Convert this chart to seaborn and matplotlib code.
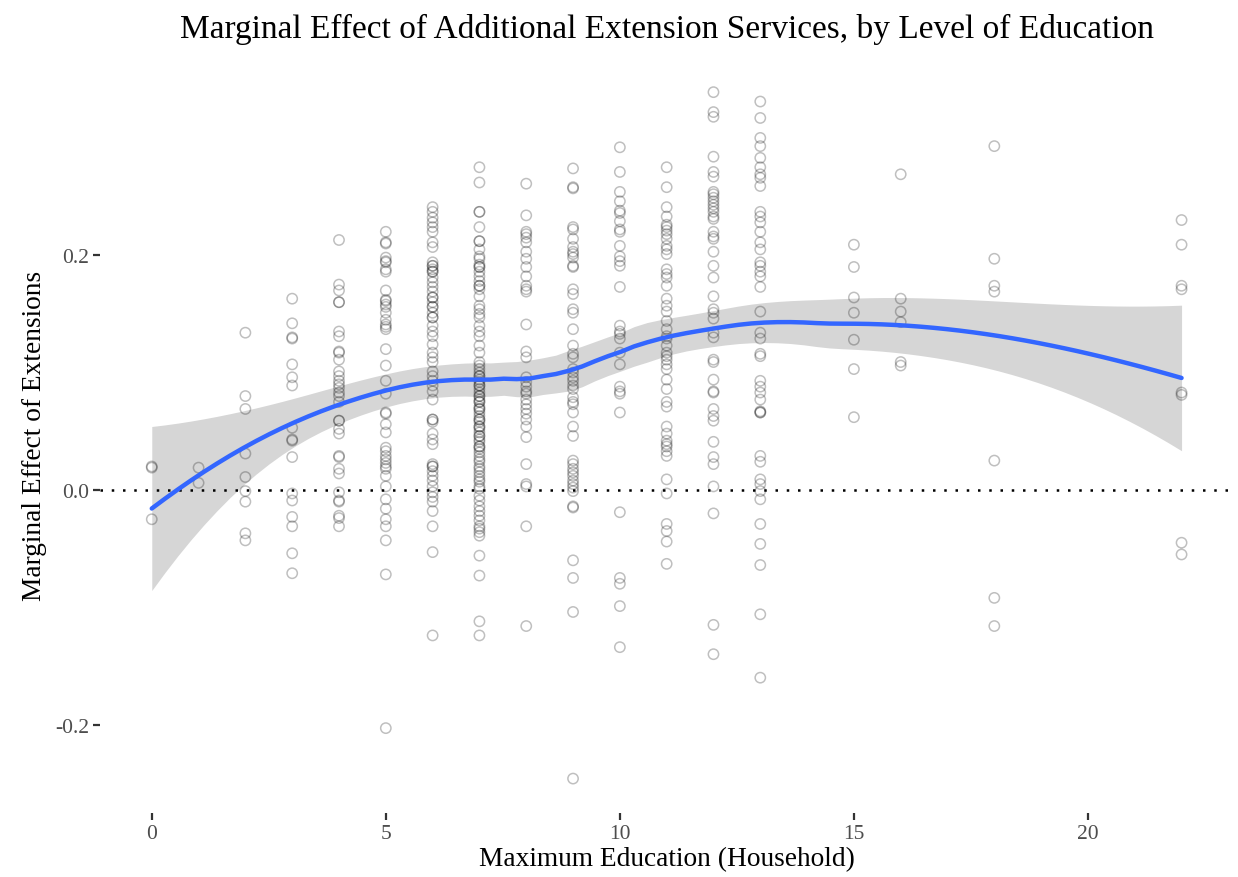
import numpy as np
import pandas as pd
import seaborn as sns
import matplotlib
matplotlib.use("Agg")
import matplotlib.pyplot as plt

# --- data: marginal effect per household, grouped by max education (years) ---
edu_0 = [0.020, 0.019, -0.025]
edu_1 = [0.019, 0.006]
edu_2 = [0.134, 0.080, 0.069, 0.031, 0.011, -0.001, -0.010, -0.037, -0.043]
edu_3 = [0.163, 0.142, 0.130, 0.129, 0.107, 0.096, 0.089, 0.053, 0.043, 0.042,
         0.028, -0.003, -0.009, -0.023, -0.031, -0.054, -0.071]
edu_4 = [0.213, 0.175, 0.170, 0.160, 0.160, 0.135, 0.131, 0.118, 0.117, 0.111,
         0.101, 0.097, 0.093, 0.090, 0.087, 0.083, 0.080, 0.075, 0.059, 0.059,
         0.052, 0.048, 0.029, 0.028, 0.018, 0.014, -0.002, -0.009, -0.010, -0.022,
         -0.024, -0.031]
edu_5 = [0.220, 0.211, 0.210, 0.198, 0.195, 0.194, 0.188, 0.186, 0.170, 0.162,
         0.161, 0.158, 0.156, 0.151, 0.145, 0.141, 0.139, 0.137, 0.120, 0.106,
         0.093, 0.082, 0.066, 0.065, 0.056, 0.049, 0.036, 0.033, 0.029, 0.026,
         0.023, 0.020, 0.018, 0.012, 0.003, -0.008, -0.016, -0.025, -0.031, -0.043,
         -0.072, -0.203]
edu_6 = [0.241, 0.237, 0.232, 0.228, 0.224, 0.220, 0.211, 0.207, 0.194, 0.191,
         0.191, 0.188, 0.186, 0.186, 0.181, 0.177, 0.173, 0.169, 0.164, 0.164,
         0.160, 0.156, 0.156, 0.151, 0.147, 0.147, 0.140, 0.135, 0.131, 0.124,
         0.117, 0.113, 0.109, 0.101, 0.097, 0.093, 0.089, 0.084, 0.077, 0.060,
         0.060, 0.058, 0.048, 0.043, 0.039, 0.022, 0.020, 0.020, 0.016, 0.012,
         0.008, 0.003, -0.002, -0.006, -0.010, -0.018, -0.031, -0.053, -0.124]
edu_7 = [0.275, 0.262, 0.237, 0.224, 0.212, 0.205, 0.199, 0.197, 0.192, 0.190,
         0.186, 0.182, 0.178, 0.174, 0.171, 0.165, 0.157, 0.154, 0.150, 0.147,
         0.140, 0.135, 0.131, 0.123, 0.117, 0.109, 0.106, 0.103, 0.100, 0.097,
         0.094, 0.092, 0.089, 0.086, 0.083, 0.080, 0.077, 0.075, 0.071, 0.069,
         0.066, 0.063, 0.060, 0.058, 0.054, 0.052, 0.049, 0.046, 0.043, 0.041,
         0.037, 0.035, 0.032, 0.029, 0.026, 0.024, 0.020, 0.018, 0.015, 0.012,
         0.009, 0.007, 0.003, 0.001, -0.005, -0.009, -0.014, -0.018, -0.022, -0.026,
         -0.031, -0.033, -0.036, -0.039, -0.056, -0.073, -0.112, -0.124,
         0.097, 0.089, 0.080, 0.075, 0.069, 0.060, 0.054, 0.046, 0.037,
         0.237, 0.212, 0.190, 0.174]
edu_8 = [0.261, 0.234, 0.220, 0.218, 0.215, 0.211, 0.203, 0.197, 0.190, 0.182,
         0.174, 0.171, 0.169, 0.141, 0.118, 0.113, 0.096, 0.092, 0.088, 0.084,
         0.082, 0.077, 0.073, 0.069, 0.065, 0.060, 0.054, 0.045, 0.022, 0.005,
         0.003, -0.031, -0.116]
edu_9 = [0.274, 0.258, 0.257, 0.224, 0.222, 0.214, 0.207, 0.203, 0.201, 0.198,
         0.191, 0.190, 0.171, 0.167, 0.154, 0.151, 0.137, 0.123, 0.116, 0.113,
         0.103, 0.100, 0.096, 0.093, 0.089, 0.086, 0.079, 0.075, 0.073, 0.066,
         0.054, 0.046, 0.025, 0.022, 0.018, 0.015, 0.012, 0.008, 0.005, 0.002,
         -0.014, -0.001, -0.015, -0.060, -0.075, -0.104, -0.246]
edu_10 = [0.292, 0.271, 0.254, 0.246, 0.238, 0.236, 0.229, 0.222, 0.220, 0.208,
          0.199, 0.195, 0.191, 0.173, 0.140, 0.135, 0.133, 0.129, 0.117, 0.107,
          0.088, 0.084, 0.082, 0.066, -0.019, -0.075, -0.080, -0.099, -0.134]
edu_11 = [0.275, 0.258, 0.241, 0.233, 0.226, 0.224, 0.221, 0.218, 0.214, 0.208,
          0.205, 0.201, 0.188, 0.184, 0.181, 0.174, 0.163, 0.157, 0.152, 0.144,
          0.137, 0.131, 0.129, 0.123, 0.117, 0.114, 0.111, 0.107, 0.103, 0.094,
          0.086, 0.075, 0.071, 0.054, 0.048, 0.042, 0.039, 0.037, 0.033, 0.029,
          0.009, -0.003, -0.029, -0.035, -0.044, -0.063]
edu_12 = [0.339, 0.322, 0.318, 0.284, 0.271, 0.267, 0.254, 0.252, 0.249, 0.246,
          0.243, 0.240, 0.237, 0.233, 0.231, 0.220, 0.216, 0.214, 0.203, 0.191,
          0.181, 0.165, 0.154, 0.151, 0.146, 0.134, 0.130, 0.111, 0.109, 0.094,
          0.084, 0.083, 0.069, 0.063, 0.059, 0.041, 0.028, 0.022, 0.003, -0.020,
          -0.115, -0.140]
edu_13 = [0.331, 0.317, 0.300, 0.293, 0.283, 0.275, 0.269, 0.266, 0.259, 0.237,
          0.233, 0.228, 0.220, 0.211, 0.205, 0.194, 0.191, 0.186, 0.182, 0.173,
          0.152, 0.134, 0.129, 0.116, 0.114, 0.093, 0.088, 0.083, 0.067, 0.077,
          0.066, 0.066, 0.029, 0.024, 0.009, 0.005, -0.001, -0.008, -0.029, -0.046,
          -0.064, -0.106, -0.160]
edu_15 = [0.209, 0.190, 0.164, 0.151, 0.128, 0.103, 0.062]
edu_16 = [0.269, 0.163, 0.152, 0.143, 0.109, 0.106]
edu_18 = [0.293, 0.197, 0.174, 0.169, 0.025, -0.092, -0.116]
edu_22 = [0.230, 0.209, 0.174, 0.171, 0.083, 0.081, -0.045, -0.055]

groups = {0: edu_0, 1: edu_1, 2: edu_2, 3: edu_3, 4: edu_4, 5: edu_5, 6: edu_6,
          7: edu_7, 8: edu_8, 9: edu_9, 10: edu_10, 11: edu_11, 12: edu_12,
          13: edu_13, 15: edu_15, 16: edu_16, 18: edu_18, 22: edu_22}
df = pd.DataFrame([(k, v) for k, vals in groups.items() for v in vals],
                  columns=["educ", "effect"])


# --- loess smoother (span 0.75, degree 2), same default as geom_smooth ---
def loess_weights(x, x0, span=0.75):
    n = len(x)
    q = int(np.floor(n * span))
    d = np.abs(x - x0)
    h = np.sort(d)[q - 1] * 1.0001
    w = np.clip(1 - (d / h) ** 3, 0, None) ** 3
    X = np.column_stack([np.ones(n), x - x0, (x - x0) ** 2])
    XtW = X.T * w
    return np.linalg.solve(XtW @ X, XtW)[0]


x = df["educ"].to_numpy(float)
y = df["effect"].to_numpy(float)
L = np.array([loess_weights(x, xi) for xi in x])
resid = y - L @ y
IL = np.eye(len(x)) - L
delta1 = np.trace(IL.T @ IL)
sigma = np.sqrt(np.sum(resid ** 2) / delta1)

grid = np.linspace(x.min(), x.max(), 80)
lg = np.array([loess_weights(x, g) for g in grid])
fit = lg @ y
se = sigma * np.sqrt((lg ** 2).sum(axis=1))
smooth = pd.DataFrame({"educ": grid, "fit": fit,
                       "lo": fit - 1.965 * se, "hi": fit + 1.965 * se})

# --- plot ---
sns.set_theme(style="white")
plt.rcParams["font.family"] = ["Liberation Serif", "DejaVu Serif"]
plt.rcParams["axes.unicode_minus"] = False

fig, ax = plt.subplots(figsize=(12.38, 8.78), dpi=100)
fig.subplots_adjust(left=0.081, right=0.996, top=0.933, bottom=0.073)

ax.fill_between(smooth["educ"], smooth["lo"], smooth["hi"],
                color="#999999", alpha=0.4, linewidth=0, zorder=1)
sns.scatterplot(data=df, x="educ", y="effect", ax=ax, marker="o",
                facecolor="none", edgecolor=(0, 0, 0, 0.25), linewidth=1.1,
                s=55, zorder=2)
ax.axhline(0, color="black", linestyle=(0, (1, 3.5)), linewidth=1.8, zorder=3)
sns.lineplot(data=smooth, x="educ", y="fit", ax=ax, color="#3366FF",
             linewidth=3.2, zorder=4)

ax.set_xticks([0, 5, 10, 15, 20])
ax.set_yticks([-0.2, 0.0, 0.2])
ax.set_yticklabels(["-0.2", "0.0", "0.2"])
ax.tick_params(axis="both", length=5, width=1.6, color="#333333", pad=3,
               labelsize=15.5, labelcolor="#4d4d4d", left=True, bottom=True)
for s in ax.spines.values():
    s.set_visible(False)

ax.set_xlabel("Maximum Education (Household)", fontsize=19.7, labelpad=2,
              color="black")
ax.set_ylabel("Marginal Effect of Extensions", fontsize=19.7, labelpad=6,
              color="black")
ax.set_title("Marginal Effect of Additional Extension Services, by Level of Education",
             fontsize=24, pad=15, color="black")

fig.savefig("out.png", dpi=100)
